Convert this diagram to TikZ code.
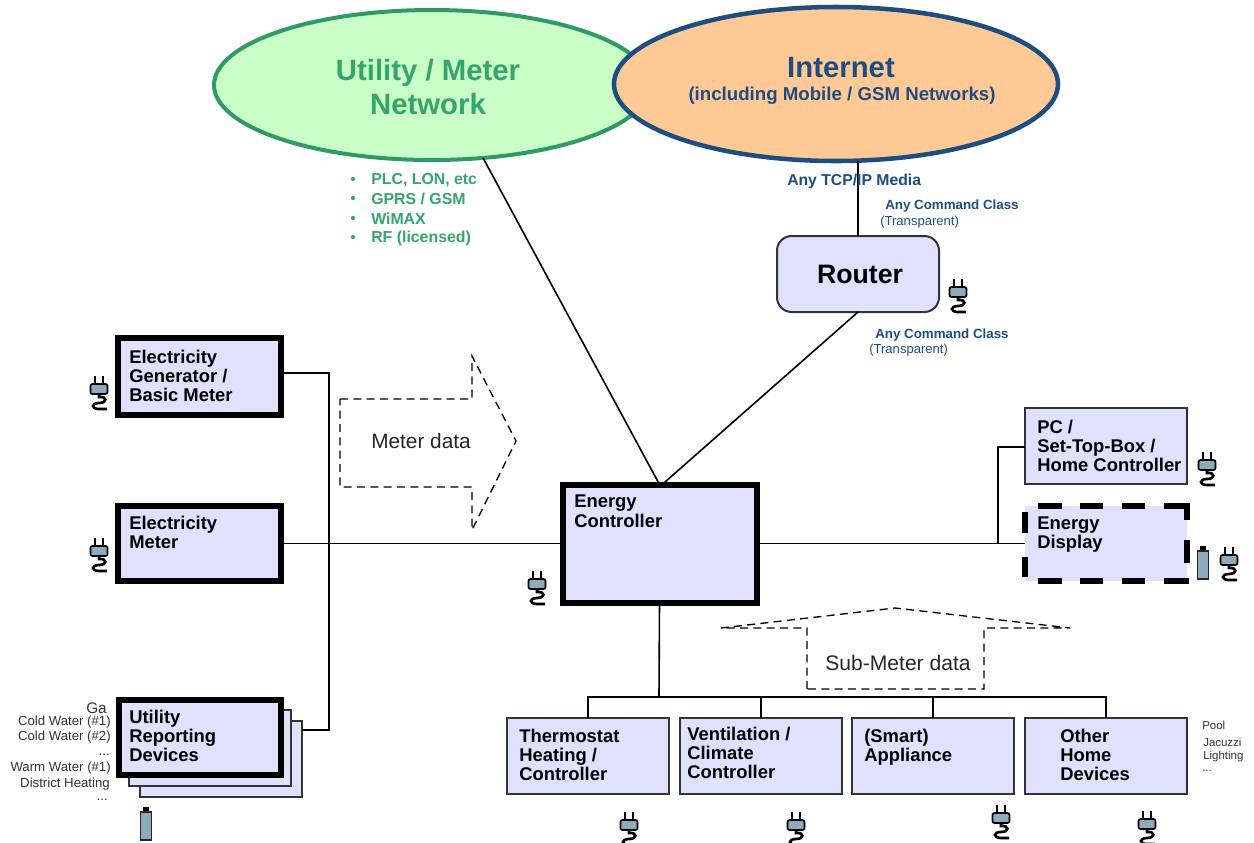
\documentclass[tikz,border=0pt]{standalone}
\usepackage{fontspec}
\setmainfont{Liberation Sans}
\usetikzlibrary{shapes.geometric}
\definecolor{lav}{HTML}{E0E0FF}
\definecolor{greenline}{HTML}{2F9A63}
\definecolor{greenfill}{HTML}{C9FFC6}
\definecolor{greentext}{HTML}{35A56B}
\definecolor{orangefill}{HTML}{FFC995}
\definecolor{bluedark}{HTML}{1E4D82}
\definecolor{plugblue}{HTML}{8FAABD}
\tikzset{
  x=0.75pt,y=-0.75pt,
  wh/.style 2 args={minimum width=#1*0.75pt,minimum height=#2*0.75pt,inner sep=0pt,outer sep=0pt},
  thinbox/.style={draw=black!80,fill=lav,line width=1.5pt},
  thickbox/.style={draw=black,fill=lav,line width=4.5pt},
  conn/.style={draw=black,line width=1.2pt},
  flowarrow/.style={draw=black,line width=1pt,dash pattern=on 6pt off 4pt},
  boxtxt/.style={font=\fontsize{13.8}{14.3}\selectfont\bfseries,align=left,inner sep=0pt,anchor=north west},
  small/.style={font=\fontsize{9.9}{11}\selectfont,text=black!80,inner sep=0pt},
  rightsmall/.style={font=\fontsize{8.6}{10}\selectfont,text=black!80,inner sep=0pt,anchor=west},
  cmdb/.style={font=\fontsize{10}{11}\selectfont\bfseries,text=bluedark,inner sep=0pt,anchor=west},
  cmdr/.style={font=\fontsize{9.8}{11}\selectfont,text=bluedark,inner sep=0pt,anchor=west},
  greenlist/.style={font=\fontsize{11.9}{14}\selectfont\bfseries,text=greentext,inner sep=0pt,anchor=west},
  dispdash/.style={draw=black,line width=3.8pt},
  plug/.pic={
    \draw[black,line width=1.9pt] (-4,0) -- (-4,10) (4,0) -- (4,10);
    \draw[black,line width=2pt] (0,18) -- (0,21) .. controls (8,20) and (9,27) .. (0,27)
       .. controls (-8,27) and (-8,33) .. (0,33) -- (8,33);
    \draw[black,line width=1.3pt,fill=plugblue,rounded corners=1.5pt] (-8.5,8) rectangle (8.5,18);
  },
  battery/.pic={
    \fill[black] (-3,0) rectangle (3,6);
    \draw[black!85,line width=1.3pt,fill=plugblue] (-5.5,5) rectangle (5.5,33);
  }
}
\begin{document}
\begin{tikzpicture}
\useasboundingbox (0,0) rectangle (1254,843);
% networks
\node[ellipse,wh={436}{150},draw=greenline,fill=greenfill,line width=3pt] (utilnet) at (432,85) {};
\node[ellipse,wh={444}{154},draw=bluedark,fill=orangefill,line width=3.4pt] (inet) at (836,84) {};
\node[font=\fontsize{22}{26}\selectfont\bfseries,text=greentext,align=center,inner sep=0pt] (utilt) at (428,87) {Utility / Meter\\Network};
\node[font=\fontsize{22}{24}\selectfont\bfseries,text=bluedark,inner sep=0pt] (inett) at (841,68) {Internet};
\node[font=\fontsize{14}{16}\selectfont\bfseries,text=bluedark,inner sep=0pt] (inets) at (842,96) {(including Mobile / GSM Networks)};
% boxes
\node[thickbox,wh={163}{77}] (gen) at (199.5,376.5) {};
\node[thickbox,wh={163}{75}] (meter) at (199.5,543.5) {};
\node[thinbox,wh={162}{76}] (stackc) at (221,759) {};
\node[thinbox,wh={162}{76}] (stackb) at (210,748) {};
\node[thickbox,wh={162}{75}] (util) at (199.5,737.5) {};
\node[thickbox,wh={194}{118}] (ctrl) at (659.5,543.5) {};
\node[thinbox,wh={162}{76},rounded corners=11pt] (router) at (858,274) {};
\node[thinbox,wh={162}{76}] (pc) at (1106,446) {};
\node[wh={162}{75},fill=lav] (disp) at (1106,543.5) {};
\node[thinbox,wh={162}{76}] (th) at (588,756) {};
\node[thinbox,wh={162}{76}] (ve) at (761,756) {};
\node[thinbox,wh={162}{76}] (sm) at (933,756) {};
\node[thinbox,wh={162}{76}] (ot) at (1106,756) {};
% junctions
\coordinate (jl) at (329,373);
\coordinate (jr) at (329,730);
\coordinate (jpc) at (998,447);
\coordinate (jdisp) at (998,544);
\coordinate (bus) at (659,697);
\coordinate (busl) at (588,697);
\coordinate (busa) at (761,697);
\coordinate (busb) at (933,697);
\coordinate (busr) at (1106,697);
% connectors
\draw[conn] (utilnet.-55) -- (ctrl.north);
\draw[conn] (inet.south -| router.north) -- (router.north);
\draw[conn] (router.south) -- ([xshift=2pt]ctrl.north);
\draw[conn] (gen.east |- jl) -- (jl) -- (jr) -- (stackc.east |- jr);
\draw[conn] (meter.east) -- (ctrl.west);
\draw[conn] (ctrl.east) -- (disp.west);
\draw[conn] (pc.west |- jpc) -- (jpc) -- (jdisp);
\draw[conn] (ctrl.south) -- (bus);
\draw[conn] (th.north) -- (busl) -- (busr) -- (ot.north);
\draw[conn] (ve.north) -- (busa);
\draw[conn] (sm.north) -- (busb);
% energy display dashed outline
\draw[dispdash] (1038,506) -- (1062,506) (1080,506) -- (1103,506) (1122,506) -- (1145,506);
\draw[dispdash] (1164,506) -- (1187,506) -- (1187,520);
\draw[dispdash] (1187,540) -- (1187,563);
\draw[dispdash] (1038,581) -- (1062,581) (1080,581) -- (1103,581) (1122,581) -- (1145,581) (1164,581) -- (1189,581);
\draw[dispdash] (1025,512) -- (1025,533) (1025,557) -- (1025,577);
% flows
\node[font=\fontsize{15.6}{17}\selectfont,text=black!85,inner sep=0pt] (mdata) at (421,441) {Meter data};
\node[font=\fontsize{15.8}{17}\selectfont,text=black!85,inner sep=0pt] (sdata) at (898,663) {Sub-Meter data};
\draw[flowarrow] (340,399) -- (472,399) -- (472,356) -- (516,441) -- (472,530) -- (472,487) -- (340,487) -- cycle;
\draw[flowarrow] (807,689) -- (807,628) -- (721,628) -- (895,608) -- (1070,628) -- (984,628) -- (984,689) -- cycle;
% box text
\node[boxtxt] (t1) at (129,350) {Electricity\\Generator /\\Basic Meter};
\node[boxtxt] (t2) at (129,516) {Electricity\\Meter};
\node[boxtxt] (t3) at (129,710) {Utility\\Reporting\\Devices};
\node[boxtxt] (t4) at (574,495) {Energy\\Controller};
\node[boxtxt] (t5) at (1037,420) {PC /\\Set-Top-Box /\\Home Controller};
\node[boxtxt] (t6) at (1037,517) {Energy\\Display};
\node[boxtxt] (t7) at (519,729) {Thermostat\\Heating /\\Controller};
\node[boxtxt] (t8) at (687,727) {Ventilation /\\Climate\\Controller};
\node[boxtxt] (t9) at (864,729) {(Smart)\\Appliance};
\node[boxtxt] (t10) at (1060,729) {Other\\Home\\Devices};
\node[font=\fontsize{20}{22}\selectfont\bfseries,inner sep=0pt] (rt) at (860,274) {Router};
% left list
\node[font=\fontsize{11.5}{14}\selectfont,text=black!80,inner sep=0pt,anchor=east] (l0) at (107,708) {Ga};
\node[small,anchor=east] (l1) at (111,722) {Cold Water (\#1)};
\node[small,anchor=east] (l2) at (111,737) {Cold Water (\#2)};
\node[small,anchor=east] (l3) at (110,755) {...};
\node[small,anchor=east] (l4) at (111,768) {Warm Water (\#1)};
\node[small,anchor=east] (l5) at (110,784) {District Heating};
\node[small,anchor=east] (l6) at (108,800) {...};
% right list
\node[rightsmall] (r1) at (1202,725) {Pool};
\node[rightsmall] (r2) at (1203,742) {Jacuzzi};
\node[rightsmall] (r3) at (1203,757) {Lighting};
\node[rightsmall] (r4) at (1202,771) {...};
% green list
\foreach \yy/\tt in {179/{PLC, LON, etc},198/{GPRS / GSM},218/{WiMAX},237/{RF (licensed)}}{
  \fill[greentext] (353,\yy) circle (1.6pt);
  \node[greenlist] at (371,\yy+1) {\tt};
}
% blue labels
\node[font=\fontsize{11.8}{12}\selectfont\bfseries,text=bluedark,inner sep=0pt,anchor=west] (tcp) at (787,181) {Any TCP/IP Media};
\node[cmdb] (c1) at (885,206) {Any Command Class};
\node[cmdr] (c2) at (880,222) {(Transparent)};
\node[cmdb] (c3) at (875,335) {Any Command Class};
\node[cmdr] (c4) at (869,350) {(Transparent)};
% power
\foreach \x/\y in {99/376,99/538,537/571,958/279,1207/452,1229/547,629/812,796/812,1001/805,1147/811}
  \pic at (\x,\y) {plug};
\pic at (146,807) {battery};
\pic at (1203,546) {battery};
\end{tikzpicture}
\end{document}
